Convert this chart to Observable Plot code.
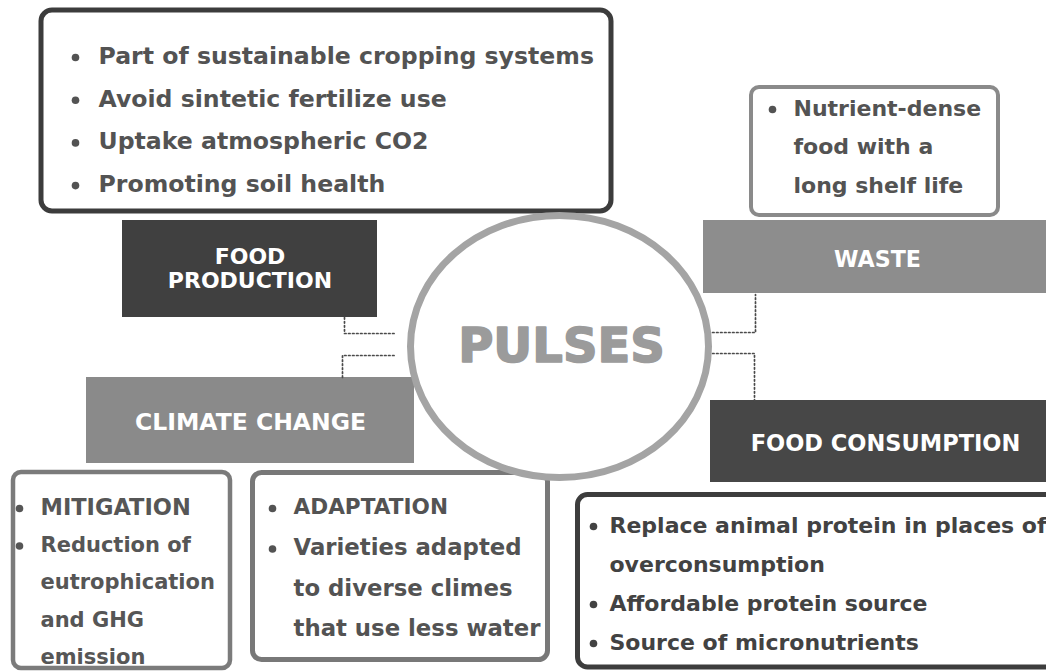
<!DOCTYPE html>
<html>
<head>
<meta charset="utf-8">
<script src="https://cdn.jsdelivr.net/npm/d3@7"></script>
<script src="https://cdn.jsdelivr.net/npm/@observablehq/plot@0.6"></script>
<style>
  html, body { margin: 0; padding: 0; background: #ffffff; }
  #chart svg { display: block; }
</style>
</head>
<body>
<div id="chart"></div>
<script>
// ---------------- DATA (text content of the diagram) ----------------
const hub = "PULSES";
const themes = ["FOOD PRODUCTION", "WASTE", "CLIMATE CHANGE", "FOOD CONSUMPTION"];
const themeLabels = ["FOOD\nPRODUCTION", "WASTE", "CLIMATE CHANGE", "FOOD CONSUMPTION"];
const productionPoints = [
  "Part of sustainable cropping systems",
  "Avoid sintetic fertilize use",
  "Uptake atmospheric CO2",
  "Promoting soil health"
];
const wastePoints = ["Nutrient-dense\nfood with a\nlong shelf life"];
const mitigationPoints = ["MITIGATION", "Reduction of\neutrophication\nand GHG\nemission"];
const adaptationPoints = ["ADAPTATION", "Varieties adapted\nto diverse climes\nthat use less water"];
const consumptionPoints = [
  "Replace animal protein in places of\noverconsumption",
  "Affordable protein source",
  "Source of micronutrients"
];

// ---------------- LAYOUT (positions, sizes, styles) ----------------
const W = 1046, H = 671;
const FONT = "DejaVu Sans";

const themeLayout = {
  "FOOD PRODUCTION":  {x1: 122, x2: 377,  y1: 220, y2: 317, fill: "#404040", cx: 249.5, cy: 268, size: 22},
  "WASTE":            {x1: 703, x2: 1050, y1: 220, y2: 293, fill: "#8d8d8d", cx: 877,   cy: 259, size: 22.2},
  "CLIMATE CHANGE":   {x1: 86,  x2: 414,  y1: 377, y2: 463, fill: "#8a8a8a", cx: 250,   cy: 421, size: 23.5},
  "FOOD CONSUMPTION": {x1: 710, x2: 1050, y1: 400, y2: 482, fill: "#474747", cx: 885,   cy: 443, size: 22.5}
};

const panelLayout = [
  {items: productionPoints, box: {x1: 41, x2: 611, y1: 10, y2: 211}, stroke: "#3c3c3c", sw: 5, rx: 11,
   bulletX: 75, textX: 98, y0: 56, dy: 42.7, sizes: [23.6], color: "#535353"},
  {items: wastePoints, box: {x1: 751, x2: 998, y1: 87, y2: 215}, stroke: "#8a8a8a", sw: 4, rx: 8,
   bulletX: 772, textX: 793, y0: 108, dy: 38.5, sizes: [22], color: "#535353"},
  {items: mitigationPoints, box: {x1: 13, x2: 230, y1: 472, y2: 668}, stroke: "#7b7b7b", sw: 4.5, rx: 8,
   bulletX: 19, textX: 40, y0: 507, dy: 37.5, sizes: [22.5, 21], color: "#565656"},
  {items: adaptationPoints, box: {x1: 252.5, x2: 547.5, y1: 472.5, y2: 659.5}, stroke: "#787878", sw: 5, rx: 9,
   bulletX: 272, textX: 293, y0: 507, dy: 40.5, sizes: [21.6, 22.8], color: "#535353"},
  {items: consumptionPoints, box: {x1: 577.5, x2: 1060, y1: 494.5, y2: 667}, stroke: "#3d3d3d", sw: 5, rx: 10,
   bulletX: 593, textX: 609, y0: 525, dy: 39, sizes: [22], color: "#424242"}
];

const connectorLayout = [
  {id: "production", pts: [[344, 317], [344, 333], [395, 333]]},
  {id: "climate",    pts: [[342, 377], [342, 355], [396, 355]]},
  {id: "waste",      pts: [[708, 332], [755, 332], [755, 294]]},
  {id: "consumption",pts: [[708, 353], [754, 353], [754, 400]]}
];

const hubLayout = {cx: 559, cy: 346, ry: 131, aspect: 149 / 131, stroke: "#a4a4a4", sw: 7,
                   textColor: "#9b9b9b", size: 48};

// ---------------- BUILD TABLES ----------------
const themeRows = themes.map((t, i) => ({theme: t, label: themeLabels[i], ...themeLayout[t]}));

const panelBoxes = panelLayout.map(p => ({...p.box, stroke: p.stroke, sw: p.sw, rx: p.rx}));

const lineRows = [];
const bulletRows = [];
panelLayout.forEach(p => {
  let row = 0;
  p.items.forEach((item, k) => {
    const size = p.sizes[Math.min(k, p.sizes.length - 1)];
    item.split("\n").forEach((line, j) => {
      const y = p.y0 + row * p.dy;
      lineRows.push({text: line, x: p.textX, y, size, color: p.color});
      if (j === 0) bulletRows.push({x: p.bulletX, y: y + 1, color: p.color});
      row++;
    });
  });
});

const connectorRows = connectorLayout.flatMap(c => c.pts.map(([x, y]) => ({id: c.id, x, y})));

// elliptical symbol for the hub outline
const ellipseSymbol = {
  draw(context, size) {
    const r = Math.sqrt(size / Math.PI);
    const ry = r, rx = r * hubLayout.aspect, k = 0.5523;
    context.moveTo(rx, 0);
    context.bezierCurveTo(rx, k * ry, k * rx, ry, 0, ry);
    context.bezierCurveTo(-k * rx, ry, -rx, k * ry, -rx, 0);
    context.bezierCurveTo(-rx, -k * ry, -k * rx, -ry, 0, -ry);
    context.bezierCurveTo(k * rx, -ry, rx, -k * ry, rx, 0);
    context.closePath();
  }
};

// ---------------- PLOT ----------------
const chart = Plot.plot({
  width: W,
  height: H,
  margin: 0,
  style: {background: "#ffffff", fontFamily: FONT},
  x: {domain: [0, W], range: [0, W], axis: null},
  y: {domain: [0, H], range: [0, H], axis: null},
  marks: [
    // theme label boxes
    Plot.rect(themeRows, {x1: "x1", x2: "x2", y1: "y1", y2: "y2", fill: d => d.fill}),
    // outlined detail panels
    ...panelBoxes.map(b => Plot.rect([b], {
      x1: "x1", x2: "x2", y1: "y1", y2: "y2",
      fill: "none", stroke: b.stroke, strokeWidth: b.sw, rx: b.rx
    })),
    // dotted connectors
    Plot.line(connectorRows, {x: "x", y: "y", z: "id", stroke: "#4a4a4a", strokeWidth: 1.7,
      strokeDasharray: "1.6 2.4", curve: "linear"}),
    // hub ellipse
    Plot.dot([{x: hubLayout.cx, y: hubLayout.cy}], {x: "x", y: "y", r: hubLayout.ry,
      symbol: ellipseSymbol, fill: "#ffffff", stroke: hubLayout.stroke, strokeWidth: hubLayout.sw}),
    Plot.text([hub], {x: () => hubLayout.cx + 2, y: () => hubLayout.cy, text: d => d,
      fontSize: hubLayout.size, fontWeight: "bold", fill: hubLayout.textColor,
      stroke: hubLayout.textColor, strokeWidth: 1.6, fontFamily: FONT}),
    // theme labels
    ...themeRows.map(t => Plot.text([t], {x: "cx", y: "cy", text: "label", fill: "#ffffff",
      fontSize: t.size, fontWeight: "bold", fontFamily: FONT, lineHeight: 1.1})),
    // bullets
    Plot.dot(bulletRows, {x: "x", y: "y", r: 3.8, fill: d => d.color, stroke: null}),
    // panel text lines
    ...lineRows.map(l => Plot.text([l], {x: "x", y: "y", text: "text", textAnchor: "start",
      fontSize: l.size, fontWeight: "bold", fill: l.color, fontFamily: FONT}))
  ]
});

document.getElementById("chart").appendChild(chart);
</script>
</body>
</html>
